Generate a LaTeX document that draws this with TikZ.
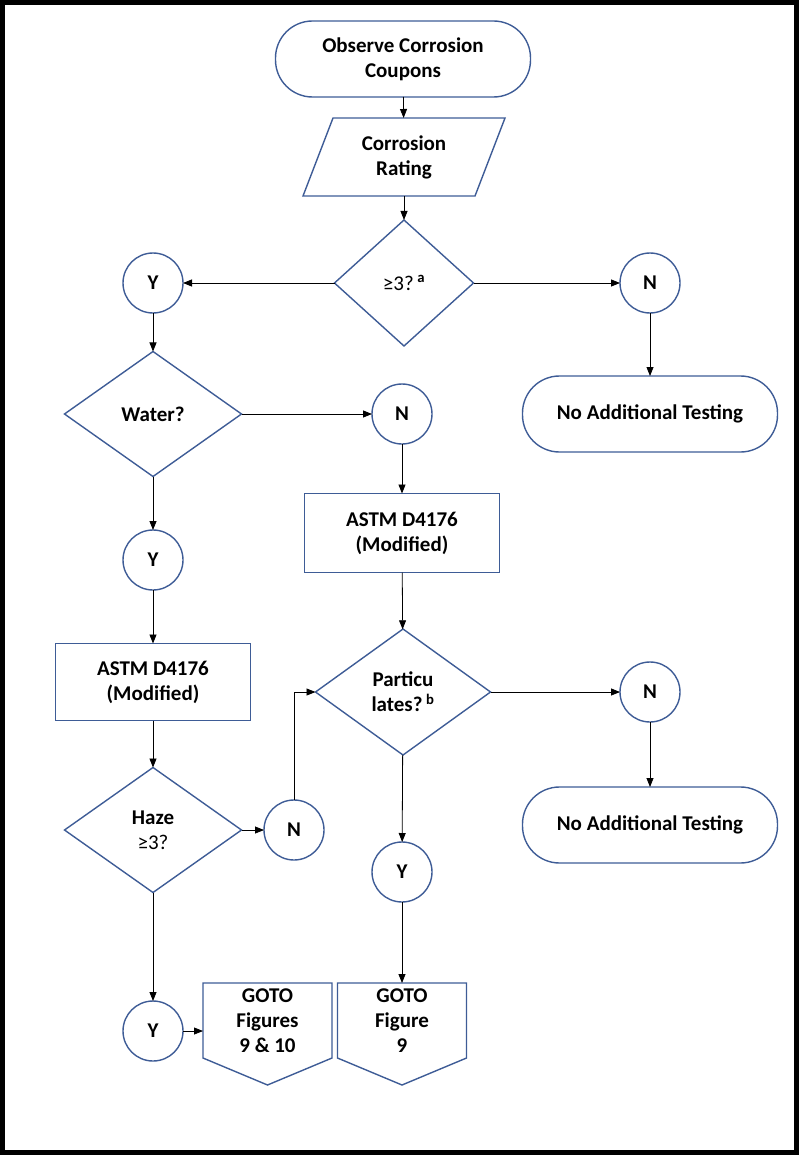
\documentclass[tikz,border=0pt]{standalone}
\usepackage{fontspec}
\setmainfont{Carlito}
\usetikzlibrary{shapes.geometric,arrows.meta,calc}
\definecolor{shapeblue}{RGB}{62,92,150}

\begin{document}
\begin{tikzpicture}[x=1pt,y=-1pt,
  every node/.style={font=\fontsize{21}{25}\selectfont\bfseries, align=center, inner sep=0pt, outer sep=0pt},
  termbox/.style={rectangle, rounded corners=37pt, draw=shapeblue, line width=1.4pt, minimum width=255pt, minimum height=76pt},
  iobox/.style={rectangle, minimum width=172pt, minimum height=78pt},
  testbox/.style={rectangle, draw=shapeblue, line width=1.4pt, minimum width=195pt, minimum height=77pt},
  choice/.style={diamond, draw=shapeblue, line width=1.4pt, minimum width=177pt, minimum height=125pt},
  answer/.style={circle, draw=shapeblue, line width=1.4pt, minimum size=60pt},
  gotobox/.style={rectangle, minimum width=129pt, minimum height=75pt},
  conn/.style={-{Triangle[length=9pt,width=7pt]}, line width=0.8pt}]

\useasboundingbox (0,0) rectangle (799,1155);
\draw[line width=5pt] (2.5,2.5) rectangle (796.5,1152.5);

% main column
\node[termbox] (start) at (403,59) {Observe Corrosion\\Coupons};
\node[iobox] (rating) at (404,157) {Corrosion\\Rating};
\node[choice, minimum width=139pt, minimum height=126pt] (crit) at (404,283) {{\mdseries ≥3?}\,\textsuperscript{a}};
\node[answer] (y1) at (153,283) {Y};
\node[answer] (n1) at (650,283) {N};
\node[termbox] (stop1) at (650,414) {No Additional Testing};

% water branch
\node[choice] (water) at (153,414) {Water?};
\node[answer] (n2) at (402,414) {N};
\node[testbox, minimum height=79pt] (astmA) at (402,533) {ASTM D4176\\(Modified)};
\node[choice, minimum width=175pt, minimum height=126pt] (part) at (403,692) {Particu\\lates?\,\textsuperscript{b}};
\node[answer] (n4) at (650,692) {N};
\node[termbox] (stop2) at (650,825) {No Additional Testing};
\node[answer] (y3) at (402,872) {Y};
\node[gotobox] (goB) at (402,1020.5) {GOTO\\Figure\\9};

\node[answer] (y2) at (153,560) {Y};
\node[testbox] (astmB) at (153,682) {ASTM D4176\\(Modified)};
\node[choice] (haze) at (153,830) {Haze\\{\mdseries ≥3?}};
\node[answer] (n3) at (294,830) {N};
\node[answer] (y4) at (153,1031) {Y};
\node[gotobox] (goA) at (267.5,1020.5) {GOTO\\Figures\\9 \& 10};

% slanted input outline
\draw[shapeblue, line width=1.4pt] ($(rating.north west)+(15,0)$) -- ($(rating.north east)+(15,0)$)
  -- ($(rating.south east)+(-15,0)$) -- ($(rating.south west)+(-15,0)$) -- cycle;

% off-page outlines
\foreach \g in {goA,goB}
  \draw[shapeblue, line width=1.4pt] (\g.north west) -- (\g.north east) -- (\g.south east)
    -- ($(\g.south)+(0,27)$) -- (\g.south west) -- cycle;

% connectors
\draw[conn] (start) -- (rating);
\draw[conn] (rating) -- (crit);
\draw[conn] (crit) -- (y1);
\draw[conn] (crit) -- (n1);
\draw[conn] (n1) -- (stop1);
\draw[conn] (y1) -- (water);
\draw[conn] (water) -- (n2);
\draw[conn] (n2) -- (astmA);
\draw[conn] (astmA) -- (part);
\draw[conn] (part) -- (n4);
\draw[conn] (n4) -- (stop2);
\draw[conn] (part) -- (y3);
\draw[conn] (y3) -- (goB);
\draw[conn] (water) -- (y2);
\draw[conn] (y2) -- (astmB);
\draw[conn] (astmB) -- (haze);
\draw[conn] (haze) -- (n3);
\draw[conn] (n3) |- (part.west);
\draw[conn] (haze) -- (y4);
\draw[conn] (y4.east) -- (y4.east -| goA.west);
\end{tikzpicture}
\end{document}
